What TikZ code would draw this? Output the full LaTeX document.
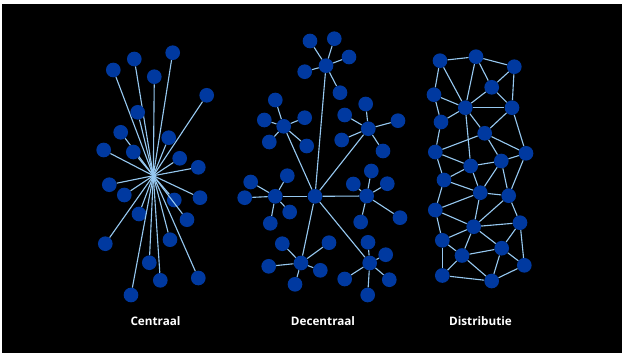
\documentclass[tikz,border=0pt]{standalone}
\usepackage{fontspec}
\setmainfont{Open Sans}
\usepackage{tikz}
\usetikzlibrary{positioning}

\definecolor{nodeblue}{RGB}{0,57,160}
\definecolor{linkblue}{RGB}{150,200,240}

\begin{document}
\begin{tikzpicture}[
    x=0.03cm, y=-0.03cm,
    dot/.style={circle, fill=nodeblue, minimum size=0.44cm, inner sep=0pt},
    link/.style={draw=linkblue, line width=0.95pt},
    caption/.style={anchor=base, text=white, font=\bfseries\fontsize{10}{12}\selectfont}
]
    % frame
    \fill[white] (0,0) rectangle (623,354);
    \fill[black] (2,4) rectangle (622,353);

    % Centraal
    \coordinate (star) at (153.3,175.7);
    \foreach \x/\y [count=\i] in {113.3/70, 134.3/59, 172.7/52.7, 154.3/76.7, 206.7/95.3,
        137.7/112.3, 120.7/132.3, 168.7/137.7, 103.7/150, 133.3/152, 179.7/158.3,
        198.3/167.3, 109.3/184.7, 124.3/195, 200/197.7, 174.3/200, 139/214, 187/219.7,
        105.3/243.7, 170/239.7, 149.3/262.7, 160.3/280.3, 198.3/278, 131/295} {
        \node[dot] (c\i) at (\x,\y) {};
        \draw[link] (star) -- (c\i);
    }

    % Decentraal
    \node[dot] (d0) at (315,196.3) {};
    \node[dot] (ht) at (326,65.7) {};
    \node[dot] (hl) at (283.7,126.3) {};
    \node[dot] (hr) at (368.3,128.7) {};
    \node[dot] (hw) at (275.3,196.3) {};
    \node[dot] (he) at (366.7,196) {};
    \node[dot] (hsw) at (301,263) {};
    \node[dot] (hse) at (369.7,263) {};
    \foreach \h in {ht, hl, hr, hw, he, hsw, hse}
        \draw[link] (d0) -- (\h);
    \foreach \h/\x/\y [count=\i] in {ht/310/41, ht/334.3/38.7, ht/349/57, ht/304.7/71.7, ht/340/92.7,
        hl/275.3/100, hl/264.3/120, hl/304.7/117.7, hl/269.3/142, hl/306.7/146,
        hr/365.7/104, hr/344.7/115, hr/398/120.7, hr/341.7/140, hr/383/151,
        hw/250.7/182, hw/287.3/175.7, hw/244.7/197.7, hw/289.7/212, hw/270.3/223.3,
        he/371.3/171, he/353.3/184, he/387.3/183.7, he/360.7/222, he/400/217.7,
        hsw/282.3/243.7, hsw/329/242.7, hsw/268.7/266.3, hsw/320.3/270.3, hsw/295/284.3,
        hse/368/242.3, hse/385.7/254.7, hse/344.7/279, hse/389.3/279.7, hse/367.7/295} {
        \node[dot] (l\i) at (\x,\y) {};
        \draw[link] (\h) -- (l\i);
    }

    % Distributie
    \foreach \x/\y [count=\i] in {440/60.7, 476/56.7, 514.3/66.7, 491.7/87.3, 434/94.7,
        465.3/107.7, 512/107.7, 441/122, 484.7/133.3, 435.3/152, 526/153.3, 501.3/161,
        470.7/166, 444/180, 480.3/192.7, 508.7/195.7, 435.3/210, 520/222.7, 473.7/226.7,
        442.3/240.3, 501.7/248.2, 462/255.5, 524.3/265.3, 442.3/275.5, 491.7/281}
        \node[dot] (a\i) at (\x,\y) {};
    \foreach \p/\q in {1/2, 1/5, 1/6, 2/3, 2/4, 2/6, 3/4, 3/7, 4/6, 4/7, 5/6, 5/8, 6/7,
        6/8, 6/9, 6/13, 7/9, 7/11, 8/10, 9/10, 9/11, 9/12, 10/13, 10/14, 11/12, 11/16,
        12/13, 12/15, 12/16, 13/14, 13/15, 14/15, 14/17, 15/16, 15/17, 15/19, 16/18,
        16/19, 17/19, 17/20, 18/19, 18/21, 18/23, 19/20, 19/21, 19/22, 20/22, 20/24,
        21/22, 21/23, 21/25, 22/24, 22/25, 23/25, 24/25}
        \draw[link] (a\p) -- (a\q);

    % Captions below
    \node[caption] (tc) at (155.5,325.8) {Centraal};
    \node[caption] (td) at (323,325.8) {Decentraal};
    \node[caption] (tdi) at (480.5,325.8) {Distributie};
\end{tikzpicture}
\end{document}
